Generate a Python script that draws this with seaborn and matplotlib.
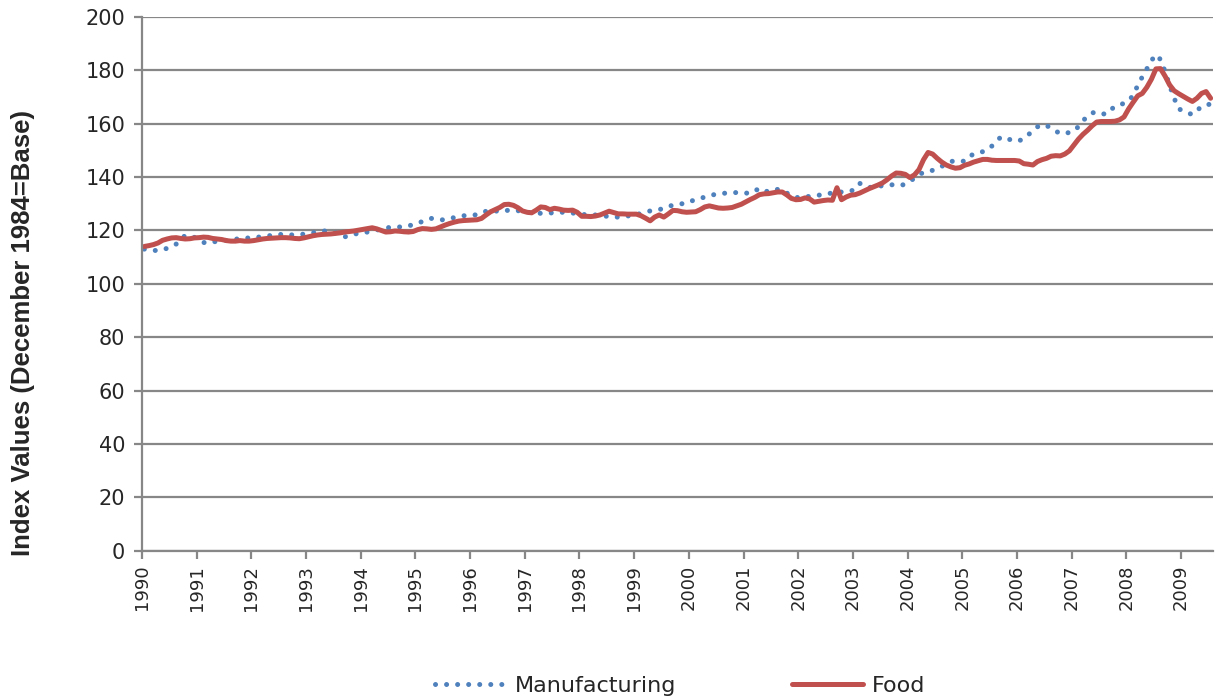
import numpy as np
import pandas as pd
import matplotlib
matplotlib.use("Agg")
import matplotlib.pyplot as plt
import seaborn as sns

# monthly index values, Jan 1990 - Jul 2009 (December 1984 = 100)
food = [
    114.0, 114.3, 114.7, 115.3, 116.3, 116.8, 117.2, 117.3, 117.0, 116.8, 116.9, 117.2,  # 1990
    117.3, 117.5, 117.4, 117.0, 116.8, 116.6, 116.2, 116.0, 116.0, 116.2, 116.0, 116.0,  # 1991
    116.2, 116.5, 116.8, 117.0, 117.1, 117.2, 117.3, 117.3, 117.2, 117.0, 116.9, 117.2,  # 1992
    117.6, 118.0, 118.3, 118.5, 118.6, 118.7, 118.9, 119.1, 119.4, 119.6, 119.8, 120.1,  # 1993
    120.4, 120.7, 121.0, 120.6, 120.0, 119.4, 119.5, 119.8, 119.7, 119.5, 119.4, 119.6,  # 1994
    120.3, 120.7, 120.6, 120.4, 120.6, 121.3, 122.0, 122.6, 123.1, 123.5, 123.7, 123.8,  # 1995
    123.9, 124.0, 124.5, 125.8, 127.0, 127.8, 128.6, 129.7, 129.8, 129.4, 128.5, 127.3,  # 1996
    126.8, 126.6, 127.6, 128.8, 128.6, 127.8, 128.3, 128.0, 127.6, 127.5, 127.6, 126.8,  # 1997
    125.3, 125.3, 125.2, 125.4, 125.8, 126.5, 127.2, 126.7, 126.2, 126.2, 126.1, 126.1,  # 1998
    126.1, 125.5, 124.6, 123.6, 125.0, 125.8, 125.0, 126.2, 127.5, 127.4, 127.0, 126.8,  # 1999
    126.9, 127.0, 127.8, 128.8, 129.2, 128.8, 128.4, 128.3, 128.4, 128.6, 129.2, 129.8,  # 2000
    130.7, 131.6, 132.4, 133.4, 133.7, 133.8, 134.1, 134.4, 134.4, 133.3, 132.0, 131.5,  # 2001
    131.6, 132.2, 131.8, 130.6, 130.9, 131.2, 131.4, 131.3, 136.0, 131.5, 132.5, 133.2,  # 2002
    133.4, 134.0, 134.8, 135.6, 136.3, 137.0, 137.8, 139.0, 140.4, 141.5, 141.4, 141.0,  # 2003
    139.8, 140.8, 142.8, 146.5, 149.2, 148.6, 147.0, 145.6, 144.5, 143.8, 143.3, 143.5,  # 2004
    144.4, 144.9, 145.6, 146.1, 146.6, 146.6, 146.3, 146.2, 146.2, 146.2, 146.2, 146.2,  # 2005
    146.0, 145.0, 144.8, 144.5, 145.8, 146.5, 147.0, 147.8, 148.0, 147.9, 148.6, 149.8,  # 2006
    152.0, 154.2, 156.0, 157.5, 159.2, 160.6, 160.8, 160.8, 160.8, 160.9, 161.4, 162.5,  # 2007
    165.5, 168.0, 170.4, 171.3, 173.6, 176.6, 180.5, 180.6, 177.8, 174.5, 172.3, 171.2,  # 2008
    170.2, 169.2, 168.3, 169.5, 171.3, 172.0, 169.5,                                     # 2009
]

manufacturing = [
    113.0, 112.8, 112.5, 112.5, 112.8, 113.3, 114.0, 114.9, 116.5, 118.2, 118.0, 117.4,  # 1990
    116.6, 115.5, 115.2, 115.6, 116.0, 116.2, 116.3, 116.4, 116.7, 117.0, 117.1, 117.2,  # 1991
    117.3, 117.5, 117.7, 117.9, 118.2, 118.4, 118.5, 118.4, 118.3, 118.4, 118.5, 118.6,  # 1992
    118.8, 119.1, 119.5, 119.8, 119.8, 119.7, 119.0, 118.0, 117.6, 118.1, 118.6, 118.9,  # 1993
    119.2, 119.4, 119.7, 120.1, 120.6, 121.0, 121.1, 121.2, 121.3, 121.5, 121.7, 122.2,  # 1994
    122.8, 123.3, 123.9, 124.5, 124.3, 123.9, 124.1, 124.5, 124.8, 125.2, 125.5, 125.6,  # 1995
    125.7, 125.9, 126.5, 127.2, 127.5, 127.3, 127.1, 127.3, 127.6, 127.7, 127.4, 127.0,  # 1996
    126.8, 126.6, 126.5, 126.4, 126.4, 126.5, 126.7, 126.8, 126.8, 126.7, 126.5, 126.3,  # 1997
    126.0, 125.9, 125.9, 125.8, 125.6, 125.4, 125.2, 125.0, 125.0, 125.2, 125.4, 125.6,  # 1998
    125.9, 126.4, 126.9, 127.3, 127.5, 127.8, 128.3, 128.9, 129.5, 129.8, 130.0, 130.2,  # 1999
    131.0, 131.5, 132.0, 132.5, 133.0, 133.4, 133.7, 133.9, 134.0, 134.1, 134.2, 134.2,  # 2000
    134.0, 133.9, 134.8, 135.8, 135.0, 134.4, 134.8, 135.4, 135.2, 134.0, 133.0, 132.4,  # 2001
    132.2, 132.5, 132.8, 133.0, 133.2, 133.5, 133.8, 134.0, 134.2, 134.4, 134.6, 134.7,  # 2002
    135.5, 137.6, 137.2, 136.2, 136.0, 136.4, 136.8, 137.1, 137.1, 137.0, 136.8, 137.4,  # 2003
    138.5, 139.5, 140.8, 141.8, 142.2, 142.5, 143.2, 144.0, 145.0, 145.8, 146.1, 146.0,  # 2004
    145.9, 147.5, 148.7, 149.1, 149.5, 150.3, 151.6, 153.5, 155.0, 154.6, 154.0, 153.4,  # 2005
    153.6, 154.4, 155.8, 157.5, 158.8, 159.6, 159.3, 158.2, 157.2, 156.3, 156.3, 156.7,  # 2006
    157.2, 158.9, 161.0, 163.0, 164.0, 164.4, 163.8, 163.5, 165.0, 166.5, 167.0, 167.6,  # 2007
    168.5, 170.6, 174.3, 177.5, 180.5, 183.6, 185.8, 184.0, 179.5, 174.3, 169.5, 165.5,  # 2008
    164.8, 164.0, 163.4, 164.8, 166.5, 167.0, 167.3,                                     # 2009
]

years = list(range(1990, 2010))

n = len(food)
# Excel-style category axis: each month sits in the middle of its slot
t = 1990 + (np.arange(n) + 0.5) / 12
df = pd.DataFrame({"t": t, "Manufacturing": manufacturing, "Food": food})

sns.set_style("white")
plt.rcParams["font.family"] = ["DejaVu Sans"]

fig, ax = plt.subplots(figsize=(12.19, 7.0), dpi=100)
fig.subplots_adjust(left=0.1165, right=0.995, top=0.976, bottom=0.213)

grey = "#878787"
sns.lineplot(data=df, x="t", y="Manufacturing", ax=ax, color="#4F81BD",
             linewidth=3.6, linestyle=(0, (0.01, 2.2)), label="Manufacturing")
sns.lineplot(data=df, x="t", y="Food", ax=ax, color="#C0504D",
             linewidth=3.6, label="Food")
for ln in ax.lines:
    ln.set_dash_capstyle("round")
    ln.set_solid_capstyle("round")

ax.set_ylim(0, 200)
ax.set_xlim(1990, 1990 + n / 12)
ax.set_yticks(range(0, 201, 20))
ax.set_xticks(years)
ax.set_xticklabels([str(y) for y in years], rotation=90)
ax.yaxis.grid(True, color=grey, linewidth=1.6)
ax.set_axisbelow(True)

for side in ["top", "right"]:
    ax.spines[side].set_visible(False)
for side in ["left", "bottom"]:
    ax.spines[side].set_color(grey)
    ax.spines[side].set_linewidth(1.6)
ax.tick_params(axis="both", direction="out", length=6, width=1.6, color=grey,
               left=True, bottom=True)
ax.tick_params(axis="y", labelsize=15, pad=6)
ax.tick_params(axis="x", labelsize=13, pad=4)

ax.set_xlabel("")
ax.set_ylabel("")
fig.text(0.019, 0.525, "Index Values (December 1984=Base)", rotation=90,
         ha="center", va="center", fontsize=18.5, fontweight="bold",
         family=["Liberation Sans", "DejaVu Sans"])

handles, labels = ax.get_legend_handles_labels()
ax.get_legend().remove()
fig.legend(handles, labels, loc="center", bbox_to_anchor=(0.558, 0.02), ncol=2,
           frameon=False, handlelength=3.2, columnspacing=5.2,
           handletextpad=0.4, prop={"family": ["DejaVu Sans"], "size": 16})

fig.savefig("out.png", dpi=100)
